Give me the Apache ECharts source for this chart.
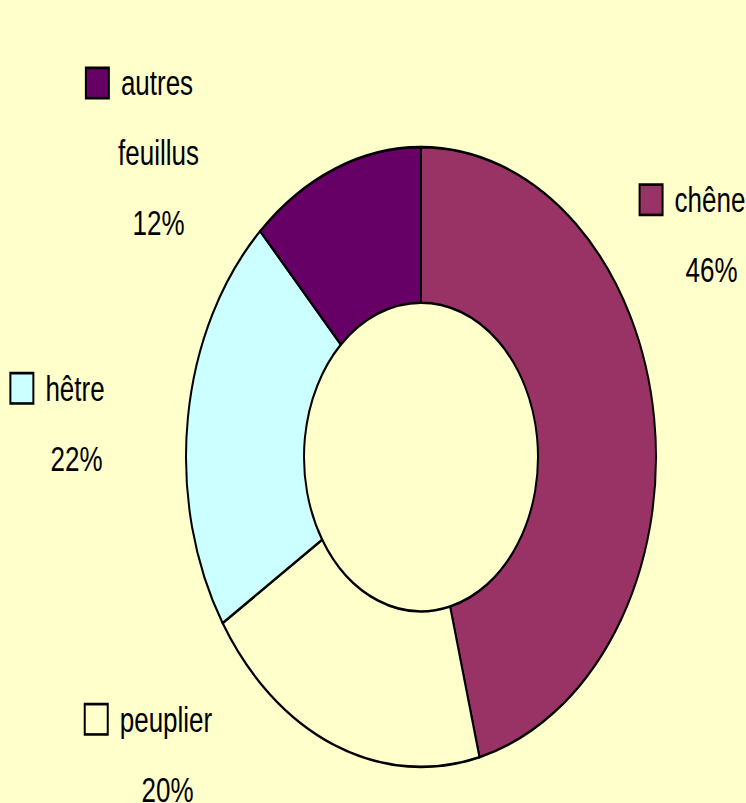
<!DOCTYPE html>
<html>
<head>
<meta charset="UTF-8">
<script src="https://cdn.jsdelivr.net/npm/echarts@6/dist/echarts.min.js"></script>
<style>
  html, body { margin: 0; padding: 0; background: #FFFFCC; width: 746px; height: 803px; }
  /* the original picture is stretched vertically, so is this one */
  #chart { width: 746px; height: 609px; transform: scaleY(1.3186); transform-origin: 0 0; }
</style>
</head>
<body>
<div id="chart"></div>
<script>
// Data
const names = ['chêne', 'peuplier', 'hêtre', 'autres\nfeuillus']
const values = [46, 20, 22, 12]
const colors = ['#993366', '#FFFFCC', '#CCFFFF', '#660066']

// Label block centres (unscaled px)
const labelPos = [[693, 178], [149, 572], [58, 321], [140, 116]]

const FONT = "'Liberation Sans Narrow', 'Arial Narrow', sans-serif"

const rich = {
  n: { fontFamily: FONT, fontSize: 26, color: '#000', lineHeight: 53 },
  np: { fontFamily: FONT, fontSize: 26, color: '#000', lineHeight: 53, padding: [0, 0, 0, 37] },
  gap: { width: 13 }
}
colors.forEach((c, i) => {
  rich['box' + i] = {
    width: 21, height: 21, backgroundColor: c,
    borderColor: '#000', borderWidth: 2
  }
})

const chart = echarts.init(document.getElementById('chart'), null, { renderer: 'svg' })
chart.setOption({
  backgroundColor: '#FFFFCC',
  animation: false,
  series: [{
    type: 'pie',
    center: [421, 346.6],
    radius: [117, 235],
    startAngle: 90,
    clockwise: true,
    data: names.map((n, i) => ({ name: n, value: values[i], itemStyle: { color: colors[i] } })),
    itemStyle: { borderColor: '#000', borderWidth: 2 },
    label: {
      show: true,
      position: 'inside',
      align: 'center',
      color: '#000',
      overflow: 'none',
      formatter: p => {
        const lines = p.name.split('\n')
        const out = ['{box' + p.dataIndex + '|}{gap|}{n|' + lines[0] + '}']
        lines.slice(1).forEach(l => out.push('{np|' + l + '}'))
        out.push('{np|' + Math.round(p.percent) + '%}')
        return out.join('\n')
      },
      rich: rich
    },
    labelLine: { show: false },
    labelLayout: p => ({
      x: labelPos[p.dataIndex][0],
      y: labelPos[p.dataIndex][1],
      align: 'center',
      verticalAlign: 'middle'
    }),
    emphasis: { disabled: true }
  }]
})
</script>
</body>
</html>
